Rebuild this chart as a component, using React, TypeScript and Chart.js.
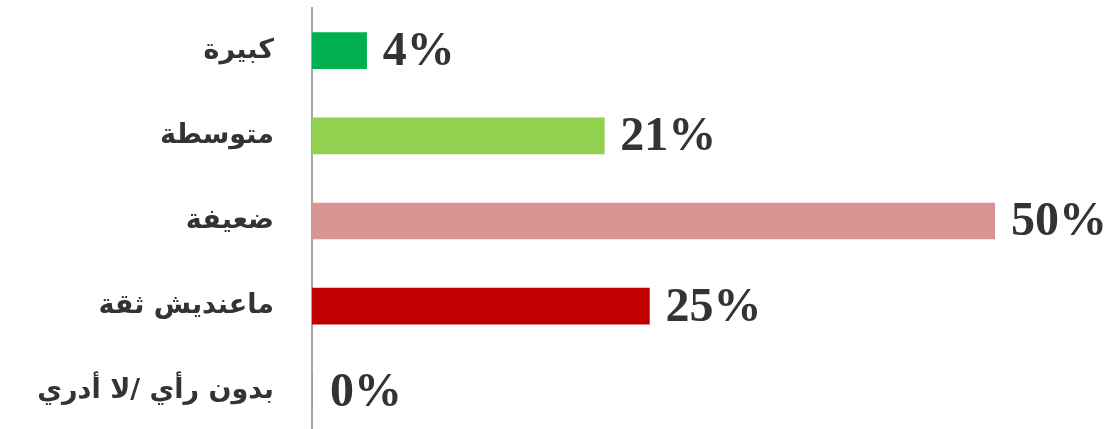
import React, { useEffect, useRef } from "react";
import { Chart, registerables } from "chart.js";

Chart.register(...registerables);

const categories = ["كبيرة", "متوسطة", "ضعيفة", "ماعنديش ثقة", "بدون رأي /لا أدري"];
const values = [4, 21.4, 50, 24.7, 0];
const valueLabels = ["4%", "21%", "50%", "25%", "0%"];
const barColors = ["#00B050", "#92D050", "#D99594", "#C00000", "#7F7F7F"];

const labelPlugin = {
  id: "valueLabels",
  afterDatasetsDraw(chart: any) {
    const ctx = chart.ctx;
    const meta = chart.getDatasetMeta(0);
    ctx.save();
    ctx.font = "bold 48px 'Liberation Serif', 'Times New Roman', serif";
    ctx.fillStyle = "#333333";
    ctx.textBaseline = "middle";
    ctx.textAlign = "left";
    meta.data.forEach((el: any, i: number) => {
      const x = values[i] === 0 ? el.base + 18 : el.x + 16;
      ctx.fillText(valueLabels[i], x, el.y + 2);
    });
    ctx.restore();
  },
};

export default function App() {
  const ref = useRef<HTMLCanvasElement>(null);
  useEffect(() => {
    document.body.style.margin = "0";
    const chart = new Chart(ref.current!, {
      type: "bar",
      data: {
        labels: categories,
        datasets: [
          {
            data: values,
            backgroundColor: barColors,
            barThickness: 36,
          },
        ],
      },
      options: {
        indexAxis: "y",
        animation: false,
        responsive: false,
        maintainAspectRatio: false,
        layout: { padding: { top: 8, bottom: 0, right: 116, left: 0 } },
        plugins: { legend: { display: false }, tooltip: { enabled: false } },
        scales: {
          x: { display: false, min: 0, max: 50 },
          y: {
            afterFit(scale: any) {
              scale.width = 312;
              scale.paddingTop = 0;
              scale.paddingBottom = 0;
            },
            grid: { display: false, drawTicks: false },
            border: { display: true, color: "#A6A6A6", width: 2 },
            ticks: {
              color: "#333333",
              padding: 38,
              font: { family: "'DejaVu Sans', sans-serif", weight: "bold", size: 27 },
            },
          },
        },
      },
      plugins: [labelPlugin],
    });
    return () => chart.destroy();
  }, []);
  return (
    <div style={{ width: 1111, height: 429, overflow: "hidden" }}>
      <canvas ref={ref} width={1111} height={434} style={{ display: "block" }} />
    </div>
  );
}
